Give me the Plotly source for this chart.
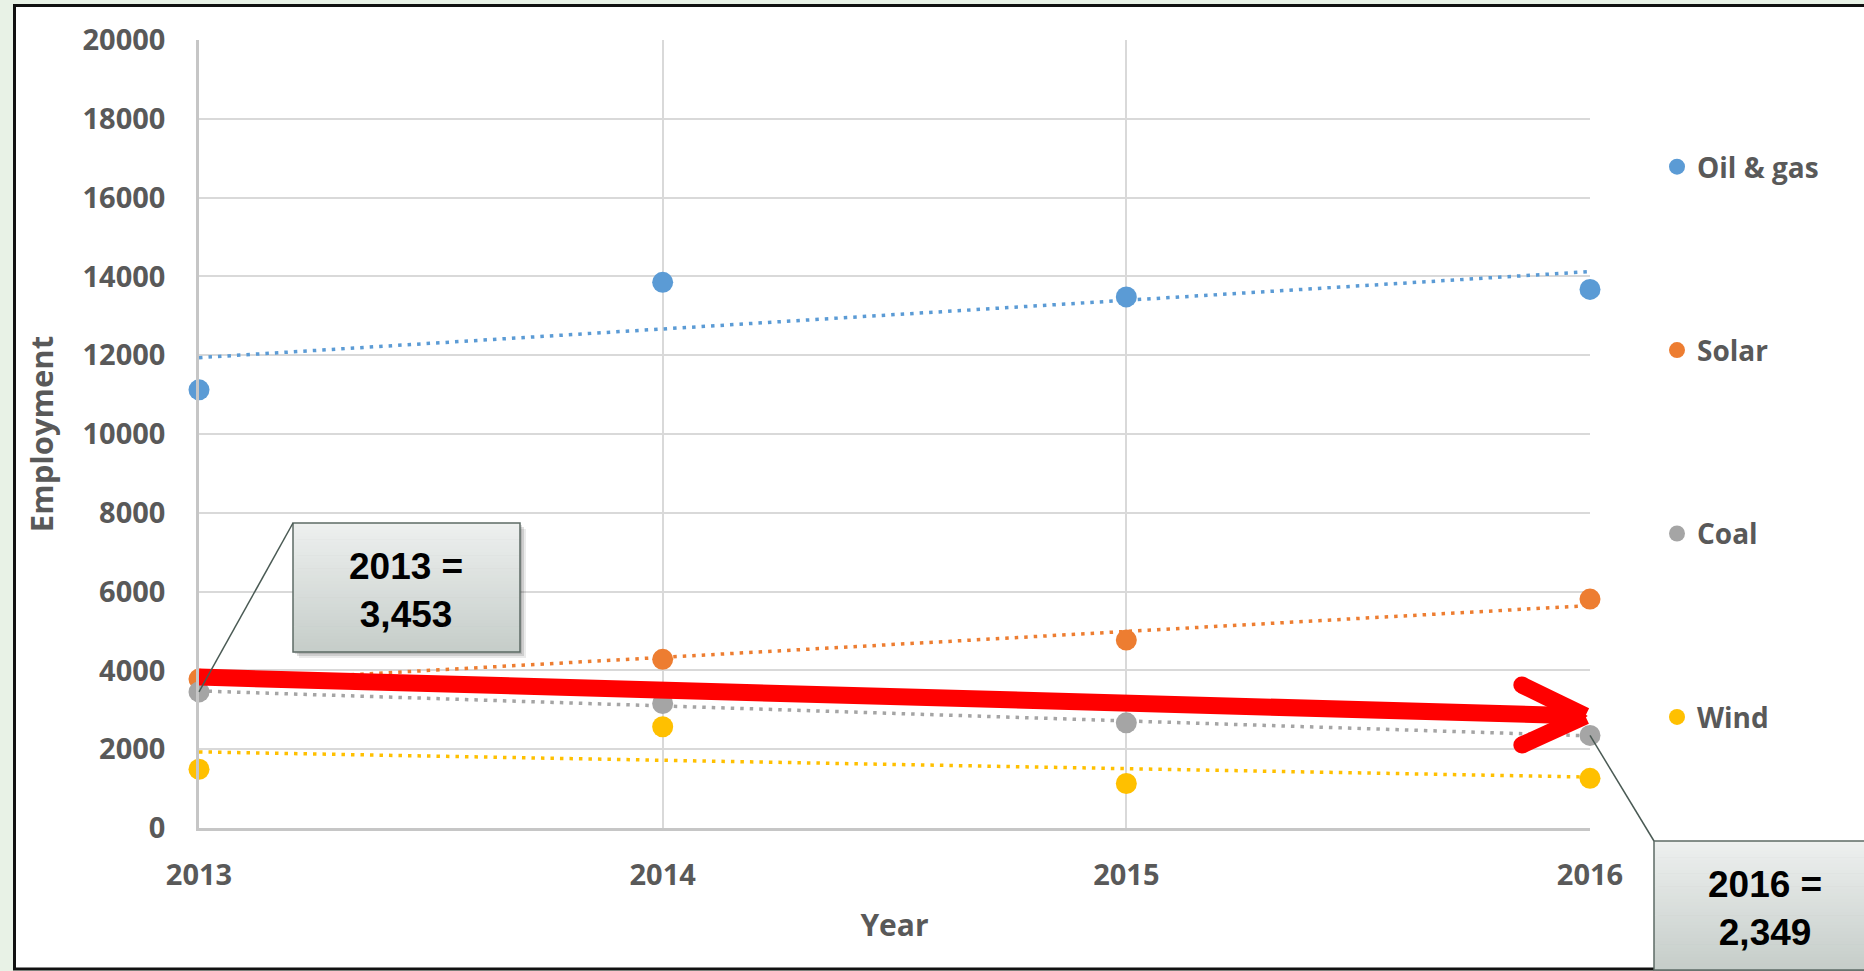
import numpy as np
import plotly.graph_objects as go

# ---------------- data ----------------
years = [2013, 2014, 2015, 2016]
oil_gas = [11120, 13850, 13480, 13670]
solar = [3780, 4280, 4770, 5810]
coal = [3453, 3160, 2670, 2349]
wind = [1490, 2570, 1130, 1260]

series_names = ["Oil & gas", "Solar", "Coal", "Wind"]
series_colors = ["#5b9bd5", "#ed7d31", "#a5a5a5", "#ffc000"]
y_ticks = list(range(0, 20001, 2000))

callout_2013 = "2013 =<br>3,453"
callout_2016 = "2016 =<br>2,349"

# ---------------- layout geometry (pixels) ----------------
W, H = 1864, 971
PX0, PX1 = 199, 1590   # plot area left/right
PY1, PY0 = 40, 828     # plot area top/bottom


def px(x):
    return (x - PX0) / (PX1 - PX0)


def py(y):
    return (PY0 - y) / (PY0 - PY1)


def data_to_paper(year, val):
    return (year - years[0]) / (years[-1] - years[0]), val / 20000


TXT = "#595959"
FONT = "Open Sans"

fig = go.Figure()

all_series = [oil_gas, solar, coal, wind]
# trendlines (linear fit of each series)
for vals, col in zip(all_series, series_colors):
    k, b = np.polyfit(years, vals, 1)
    xs = [years[0], years[-1]]
    fig.add_trace(go.Scatter(
        x=xs, y=[k * xx + b for xx in xs], mode="lines",
        line=dict(color=col, width=3.5, dash="3.5px,6px"),
        showlegend=False, hoverinfo="skip", cliponaxis=False))

for name, vals, col in zip(series_names, all_series, series_colors):
    fig.add_trace(go.Scatter(
        x=years, y=vals, mode="markers", name=name, legendgroup=name,
        marker=dict(color=col, size=21, line=dict(width=0)),
        cliponaxis=False))

shapes = []
# page background: white panel with black border
shapes.append(dict(type="rect", xref="paper", yref="paper", layer="below",
                   x0=px(14.5), x1=px(1875), y0=py(969), y1=py(5.5),
                   fillcolor="white", line=dict(color="#111111", width=3)))

# red arrow (annotation)
A_START = (2013.0, 3830)
A_TIP = (2015.99, 2843)
A_WING1 = (2015.853, 3629)
A_WING2 = (2015.853, 2107)
RED = "#ff0000"
AW = 17
shapes.append(dict(type="line", xref="x", yref="y", layer="above",
                   x0=A_START[0], y0=A_START[1], x1=A_TIP[0] - 0.02, y1=A_TIP[1] + 7,
                   line=dict(color=RED, width=AW)))
for wx, wy in (A_WING1, A_WING2):
    shapes.append(dict(type="line", xref="x", yref="y", layer="above",
                       x0=wx, y0=wy, x1=A_TIP[0], y1=A_TIP[1],
                       line=dict(color=RED, width=AW)))
    shapes.append(dict(type="circle", xref="x", yref="y", layer="above",
                       xsizemode="pixel", ysizemode="pixel", xanchor=wx, yanchor=wy,
                       x0=-AW / 2, x1=AW / 2, y0=-AW / 2, y1=AW / 2,
                       fillcolor=RED, line=dict(width=0)))
# tip fill
shapes.append(dict(type="path", xref="x", yref="y", layer="above",
                   path=f"M {A_TIP[0]-0.045},{A_TIP[1]+420} L {A_TIP[0]+0.005},{A_TIP[1]} L {A_TIP[0]-0.045},{A_TIP[1]-420} Z",
                   fillcolor=RED, line=dict(width=0)))


def callout(x0, y0, x1, y1, anchor_year, anchor_val, corner, text, tx, ty):
    # shadow
    for off, a in ((6, 0.08), (4, 0.12), (2, 0.12)):
        shapes.append(dict(type="rect", xref="paper", yref="paper", layer="above",
                           x0=px(x0 + off), x1=px(x1 + off), y0=py(y1 + off), y1=py(y0 + off),
                           fillcolor=f"rgba(0,0,0,{a})", line=dict(width=0)))
    # gradient fill
    n = 40
    c_top = np.array([0xee, 0xf0, 0xef])
    c_bot = np.array([0xc6, 0xce, 0xca])
    for i in range(n):
        t = i / (n - 1)
        c = (c_top * (1 - t) + c_bot * t).astype(int)
        ya = y0 + (y1 - y0) * i / n
        yb = y0 + (y1 - y0) * (i + 1) / n + 0.6
        shapes.append(dict(type="rect", xref="paper", yref="paper", layer="above",
                           x0=px(x0), x1=px(x1), y0=py(yb), y1=py(ya),
                           fillcolor="rgb(%d,%d,%d)" % tuple(c), line=dict(width=0)))
    shapes.append(dict(type="rect", xref="paper", yref="paper", layer="above",
                       x0=px(x0), x1=px(x1), y0=py(y1), y1=py(y0),
                       fillcolor="rgba(0,0,0,0)", line=dict(color="#5d6b66", width=1.5)))
    ax, ay = data_to_paper(anchor_year, anchor_val)
    shapes.append(dict(type="line", xref="paper", yref="paper", layer="above",
                       x0=ax, y0=ay, x1=px(corner[0]), y1=py(corner[1]),
                       line=dict(color="#4a5a54", width=1.5)))
    return dict(x=px(tx), y=py(ty), xref="paper", yref="paper", text=text,
                showarrow=False, xanchor="center", yanchor="middle",
                font=dict(family="Liberation Sans", size=37, color="black", weight="bold"))


annotations = []
annotations.append(callout(293, 523, 520, 652, years[0], coal[0], (293, 523),
                           callout_2013, 406, 590))
annotations.append(callout(1654, 841, 1882, 970, years[-1], coal[-1], (1654, 841),
                           callout_2016, 1765, 908))

fig.update_layout(
    width=W, height=H,
    margin=dict(l=PX0, r=W - PX1, t=PY1, b=H - PY0, pad=0),
    paper_bgcolor="#e8f2e6",
    plot_bgcolor="rgba(0,0,0,0)",
    font=dict(family=FONT, color=TXT, size=29, weight="bold"),
    shapes=shapes,
    annotations=annotations,
    showlegend=True,
    legend=dict(x=px(1657), y=py(142), xanchor="left", yanchor="top",
                font=dict(family=FONT, size=28, color=TXT, weight="bold"),
                tracegroupgap=144, bgcolor="rgba(0,0,0,0)", itemwidth=30),
)
fig.update_xaxes(
    range=[years[0], years[-1]], tickvals=years, ticktext=[str(y) for y in years],
    showgrid=True, gridcolor="#d9d9d9", gridwidth=2,
    showline=True, linecolor="#c6c6c6", linewidth=2.5, zeroline=False,
    ticks="", ticklabelstandoff=19,
    title=dict(text="Year", standoff=24, font=dict(family=FONT, size=30, color=TXT, weight="bold")),
    tickfont=dict(family=FONT, size=29, color=TXT, weight="bold"),
)
fig.update_yaxes(
    range=[0, 20000], tickvals=y_ticks, tickformat="d",
    showgrid=True, gridcolor="#d9d9d9", gridwidth=2,
    showline=True, linecolor="#c6c6c6", linewidth=2.5, zeroline=False,
    ticks="", ticklabelstandoff=25,
    title=dict(text="Employment", standoff=20, font=dict(family=FONT, size=31, color=TXT, weight="bold")),
    tickfont=dict(family=FONT, size=29, color=TXT, weight="bold"),
)

fig.write_html("out.html", config={"displayModeBar": False},
               post_script="document.body.style.margin='0';document.body.style.background='#e8f2e6';")
